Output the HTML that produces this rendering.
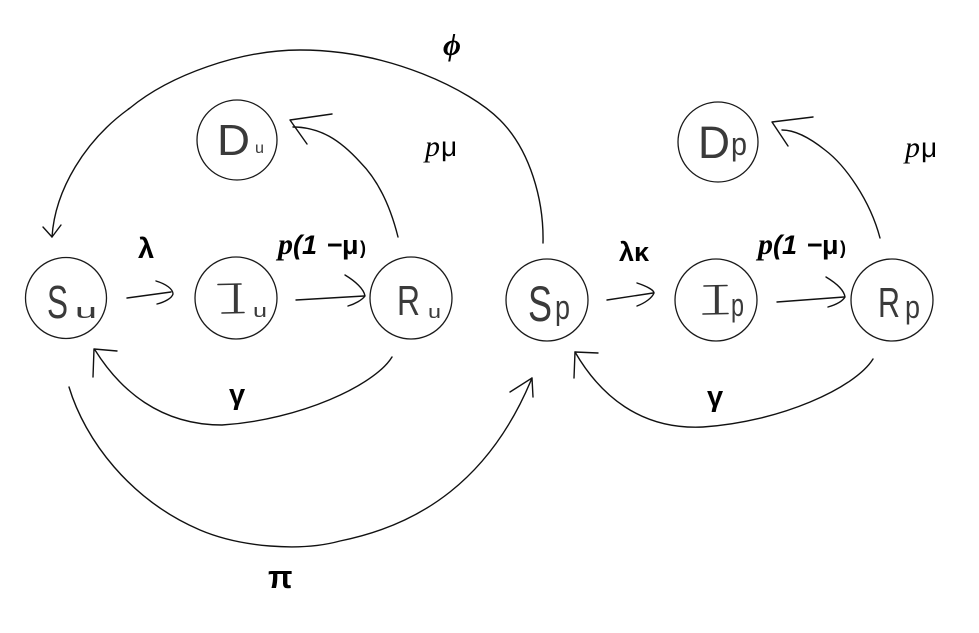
<!DOCTYPE html>
<html>
<head>
<meta charset="utf-8">
<style>
  html, body { margin:0; padding:0; background:#fff; }
  svg { display:block; }
  .c { fill:none; stroke:#1a1a1a; stroke-width:1.3; }
  .l { fill:none; stroke:#111; stroke-width:1.4; stroke-linecap:round; stroke-linejoin:round; }
  .t { fill:none; stroke:#333; stroke-width:1.6; stroke-linecap:round; }
  .n { font-family:"Liberation Sans", sans-serif; fill:#3a3a3a; }
  .lb { font-family:"Liberation Sans", sans-serif; font-weight:bold; fill:#000; }
  .rg { font-family:"Liberation Sans", sans-serif; font-weight:normal; fill:#000; }
  .it { font-family:"Liberation Serif", "DejaVu Serif", serif; font-style:italic; fill:#000; }
</style>
</head>
<body>
<svg width="979" height="633" viewBox="0 0 979 633" xmlns="http://www.w3.org/2000/svg">
  <rect width="979" height="633" fill="#fff"/>

  <!-- circles -->
  <circle class="c" cx="66" cy="298" r="40.5"/>
  <circle class="c" cx="236" cy="298" r="41"/>
  <circle class="c" cx="411" cy="298" r="41"/>
  <circle class="c" cx="547" cy="300" r="41"/>
  <circle class="c" cx="716" cy="300" r="41"/>
  <circle class="c" cx="892" cy="300" r="41"/>
  <circle class="c" cx="237" cy="140" r="40"/>
  <circle class="c" cx="718" cy="142" r="40"/>

  <!-- node letters -->
  <text class="n" x="47" y="318" font-size="46" textLength="21" lengthAdjust="spacingAndGlyphs">S</text>
  <text class="n" x="75" y="318" font-size="20" textLength="22" lengthAdjust="spacingAndGlyphs">u</text>

  <text class="n" x="230" y="313" font-size="42">I</text>
  <path class="t" d="M218,284.5 L241,284 M222,313 L244,312.5"/>
  <text class="n" x="253" y="317" font-size="18" textLength="14" lengthAdjust="spacingAndGlyphs">u</text>

  <text class="n" x="397" y="315" font-size="42" textLength="23" lengthAdjust="spacingAndGlyphs">R</text>
  <text class="n" x="428" y="318" font-size="18" textLength="13" lengthAdjust="spacingAndGlyphs">u</text>

  <text class="n" x="528" y="321" font-size="50" textLength="24" lengthAdjust="spacingAndGlyphs">S</text>
  <text class="n" x="555" y="319" font-size="34" textLength="15" lengthAdjust="spacingAndGlyphs">p</text>

  <text class="n" x="711" y="314" font-size="42">I</text>
  <path class="t" d="M704,286 L727,285.5 M703,314 L728,313.5"/>
  <text class="n" x="731" y="316" font-size="32" textLength="13" lengthAdjust="spacingAndGlyphs">p</text>

  <text class="n" x="878" y="317" font-size="42" textLength="22" lengthAdjust="spacingAndGlyphs">R</text>
  <text class="n" x="905" y="318" font-size="32" textLength="15" lengthAdjust="spacingAndGlyphs">p</text>

  <text class="n" x="217" y="155" font-size="44" textLength="33" lengthAdjust="spacingAndGlyphs">D</text>
  <text class="n" x="255" y="153" font-size="16" textLength="9" lengthAdjust="spacingAndGlyphs">u</text>

  <text class="n" x="698" y="158" font-size="45" textLength="32" lengthAdjust="spacingAndGlyphs">D</text>
  <text class="n" x="731" y="155" font-size="32" textLength="16" lengthAdjust="spacingAndGlyphs">p</text>

  <!-- phi arc Sp -> Su -->
  <path class="l" d="M543,243 C544,200 530,150 500,120 C470,90 390,50 300,50 C240,50 170,75 130,108 C85,140 55,190 52,237"/>
  <path class="l" d="M43,227 L52,237 L61,225"/>

  <!-- p mu arc Ru -> Du -->
  <path class="l" d="M398,237 C390,205 378,180 360,162 C340,140 320,127 293,127"/>
  <path class="l" d="M332,114 L290,120 L307,144"/>

  <!-- p mu arc Rp -> Dp -->
  <path class="l" d="M880,238 C870,200 845,165 825,150 C810,138 795,130 782,130"/>
  <path class="l" d="M813,117 L772,122 L788,146"/>

  <!-- horizontal arrows -->
  <path class="l" d="M127,298 L171,292"/>
  <path class="l" d="M156,281 C166,284 173,289 173,294 C172,298 165,302 157,304"/>

  <path class="l" d="M296,300 L364,296"/>
  <path class="l" d="M345,275 C355,281 364,289 365,296 C362,300 355,304 348,306"/>

  <path class="l" d="M607,300 L653,293"/>
  <path class="l" d="M637,283 C646,286 654,290 654,293 C652,298 645,303 637,306"/>

  <path class="l" d="M777,302 L844,297"/>
  <path class="l" d="M826,277 C836,283 844,290 845,297 C842,302 835,305 828,307"/>

  <!-- gamma arcs -->
  <path class="l" d="M392,357 C375,385 300,420 222,425 C160,425 120,390 95,350"/>
  <path class="l" d="M93,377 L94,349 L117,351"/>

  <path class="l" d="M873,359 C855,388 780,422 703,427 C640,430 600,395 575,352"/>
  <path class="l" d="M574,378 L575,352 L598,353"/>

  <!-- pi arc -->
  <path class="l" d="M69,387 C85,440 130,500 200,530 C240,547 300,552 340,541 C420,525 490,480 532,378"/>
  <path class="l" d="M510,392 L532,378 L533,397"/>

  <!-- labels -->
  <text class="it" x="443" y="55" font-size="31" font-weight="bold">ϕ</text>

  <text class="it" x="425" y="156" font-size="30">p</text>
  <text class="rg" x="441" y="156" font-size="28">μ</text>
  <text class="it" x="905" y="157" font-size="30">p</text>
  <text class="rg" x="921" y="157" font-size="28">μ</text>

  <text class="lb" x="138" y="258" font-size="29">λ</text>
  <text class="lb" x="619" y="261" font-size="27">λκ</text>

  <!-- p(1 -mu) left -->
  <text class="it" x="278" y="254" font-size="30" font-weight="bold">p</text>
  <text class="lb" x="293" y="254" font-size="27" font-style="italic">(</text>
  <text class="lb" x="302" y="254" font-size="27" font-style="italic">1</text>
  <text class="lb" x="327" y="254" font-size="27">−</text>
  <text class="lb" x="342" y="254" font-size="27">μ</text>
  <text class="lb" x="360" y="254" font-size="18">)</text>

  <!-- p(1 -mu) right -->
  <text class="it" x="758" y="254" font-size="30" font-weight="bold">p</text>
  <text class="lb" x="773" y="254" font-size="27" font-style="italic">(</text>
  <text class="lb" x="782" y="254" font-size="27" font-style="italic">1</text>
  <text class="lb" x="807" y="254" font-size="27">−</text>
  <text class="lb" x="822" y="254" font-size="27">μ</text>
  <text class="lb" x="840" y="254" font-size="18">)</text>

  <text class="lb" x="229" y="404" font-size="29">γ</text>
  <text class="lb" x="707" y="406" font-size="29">γ</text>
  <text class="lb" x="268" y="588" font-size="32">π</text>
</svg>
</body>
</html>
